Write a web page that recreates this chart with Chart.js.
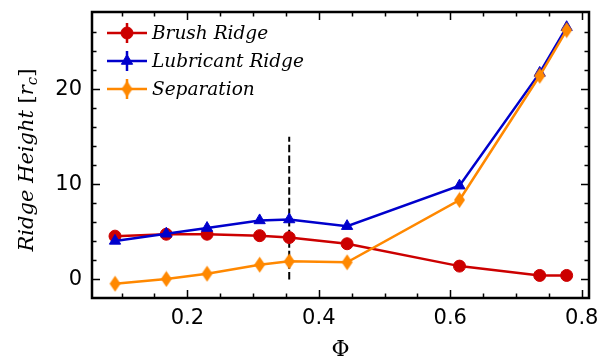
<!DOCTYPE html>
<html>
<head>
<meta charset="utf-8">
<script src="https://cdn.jsdelivr.net/npm/chart.js@4.4.1/dist/chart.umd.min.js"></script>
<style>
  body { margin: 0; background: #fff; }
  #ridge { display: block; }
</style>
</head>
<body>
<canvas id="ridge" width="608" height="362"></canvas>
<script>
// volume fraction and ridge heights (in units of r_c)
var phi = [0.090, 0.168, 0.230, 0.310, 0.355, 0.443, 0.614, 0.736, 0.777];
var brushRidge = [4.55, 4.75, 4.75, 4.6, 4.4, 3.75, 1.4, 0.42, 0.42];
var lubricantRidge = [4.05, 4.8, 5.4, 6.2, 6.3, 5.6, 9.85, 21.7, 26.5];
var separation = [-0.45, 0.05, 0.6, 1.55, 1.9, 1.8, 8.35, 21.4, 26.2];

// dashed reference line
var markPhi = 0.355;
var markTop = 15;

var xTicks = [0.2, 0.4, 0.6, 0.8];
var yTicks = [0, 10, 20];
var xMinor = [0.1, 0.15, 0.25, 0.3, 0.35, 0.45, 0.5, 0.55, 0.65, 0.7, 0.75];
var yMinor = [2, 4, 6, 8, 12, 14, 16, 18, 22, 24, 26];
var seriesNames = ['Brush Ridge', 'Lubricant Ridge', 'Separation'];

var RED = '#cc0000', BLUE = '#0000cc', ORANGE = '#ff8800';

function pts(ys) {
  return phi.map(function (x, i) { return { x: x, y: ys[i] }; });
}

// matplotlib-style thin diamond marker
function thinDiamond(color) {
  var c = document.createElement('canvas');
  c.width = 13; c.height = 17;
  var g = c.getContext('2d');
  g.fillStyle = color;
  g.beginPath();
  g.moveTo(6.5, 0.5); g.lineTo(12, 8.5); g.lineTo(6.5, 16.5); g.lineTo(1, 8.5);
  g.closePath();
  g.fill();
  return c;
}
var diamond = thinDiamond(ORANGE);

var markers = [
  { color: RED, style: 'circle', radius: 6 },
  { color: BLUE, style: 'triangle', radius: 6.5 },
  { color: ORANGE, style: diamond, radius: 6 }
];

// inward ticks on all four sides plus the frame
var frame = {
  id: 'frame',
  afterDraw: function (chart) {
    var ctx = chart.ctx, a = chart.chartArea;
    var xs = chart.scales.x, ys = chart.scales.y;
    ctx.save();
    ctx.strokeStyle = '#000';
    ctx.lineWidth = 1.5;
    ctx.beginPath();
    function xt(v, len) {
      var p = Math.round(xs.getPixelForValue(v)) + 0.5;
      ctx.moveTo(p, a.bottom); ctx.lineTo(p, a.bottom - len);
      ctx.moveTo(p, a.top); ctx.lineTo(p, a.top + len);
    }
    function yt(v, len) {
      var p = Math.round(ys.getPixelForValue(v)) + 0.5;
      ctx.moveTo(a.left, p); ctx.lineTo(a.left + len, p);
      ctx.moveTo(a.right, p); ctx.lineTo(a.right - len, p);
    }
    xTicks.forEach(function (v) { xt(v, 8); });
    xMinor.forEach(function (v) { xt(v, 4.5); });
    yTicks.forEach(function (v) { yt(v, 8); });
    yMinor.forEach(function (v) { yt(v, 4.5); });
    ctx.stroke();
    ctx.lineWidth = 2.5;
    ctx.strokeRect(a.left, a.top, a.right - a.left, a.bottom - a.top);
    ctx.restore();
  }
};

// legend: line, error bar and marker, italic labels
var legendBox = {
  id: 'legendBox',
  afterDraw: function (chart) {
    var ctx = chart.ctx;
    var x0 = 107, x1 = 147, top = 33, step = 28;
    ctx.save();
    markers.forEach(function (m, i) {
      var y = top + i * step;
      ctx.strokeStyle = m.color;
      ctx.fillStyle = m.color;
      ctx.lineWidth = 2.5;
      ctx.beginPath();
      ctx.moveTo(x0, y); ctx.lineTo(x1, y);
      ctx.moveTo((x0 + x1) / 2, y - 10); ctx.lineTo((x0 + x1) / 2, y + 10);
      ctx.stroke();
      ctx.lineWidth = 1;
      Chart.helpers.drawPoint(ctx, { pointStyle: m.style, radius: m.radius, borderWidth: 1, rotation: 0 }, (x0 + x1) / 2, y);
      ctx.fillStyle = '#000';
      ctx.font = 'italic 18.5px "DejaVu Serif"';
      ctx.textBaseline = 'alphabetic';
      ctx.textAlign = 'left';
      ctx.fillText(seriesNames[i], 152, y + 6);
    });
    ctx.restore();
  }
};

// rotated y title with subscript
var yTitle = {
  id: 'yTitle',
  afterDraw: function (chart) {
    var ctx = chart.ctx;
    var parts = [
      { t: 'Ridge Height ', f: 'italic 21px "DejaVu Serif"', dy: 0 },
      { t: '[', f: '21px "DejaVu Serif"', dy: 0 },
      { t: 'r', f: 'italic 21px "DejaVu Serif"', dy: 0 },
      { t: 'c', f: 'italic 15px "DejaVu Serif"', dy: 4 },
      { t: ']', f: '21px "DejaVu Serif"', dy: 0 }
    ];
    ctx.save();
    var total = 0;
    parts.forEach(function (p) { ctx.font = p.f; p.w = ctx.measureText(p.t).width; total += p.w; });
    ctx.translate(33, 160);
    ctx.rotate(-Math.PI / 2);
    ctx.fillStyle = '#000';
    ctx.textBaseline = 'alphabetic';
    ctx.textAlign = 'left';
    var x = -total / 2;
    parts.forEach(function (p) {
      ctx.font = p.f;
      ctx.fillText(p.t, x, p.dy);
      x += p.w;
    });
    ctx.restore();
  }
};

var tickFont = { family: '"DejaVu Sans"', size: 21 };

function noPad(s) {
  s.paddingTop = 0; s.paddingBottom = 0; s.paddingLeft = 0; s.paddingRight = 0;
}

new Chart(document.getElementById('ridge'), {
  type: 'line',
  data: {
    datasets: [
      {
        label: 'marker',
        data: [{ x: markPhi, y: 0 }, { x: markPhi, y: markTop }],
        borderColor: '#000',
        borderWidth: 2,
        borderDash: [7.4, 3.2],
        pointRadius: 0,
        order: 4
      },
      {
        label: seriesNames[0],
        data: pts(brushRidge),
        borderColor: RED,
        backgroundColor: RED,
        borderWidth: 2.5,
        pointStyle: 'circle',
        pointRadius: markers[0].radius,
        pointBorderWidth: 1,
        order: 3
      },
      {
        label: seriesNames[1],
        data: pts(lubricantRidge),
        borderColor: BLUE,
        backgroundColor: BLUE,
        borderWidth: 2.5,
        pointStyle: 'triangle',
        pointRadius: markers[1].radius,
        pointBorderWidth: 1,
        order: 2
      },
      {
        label: seriesNames[2],
        data: pts(separation),
        borderColor: ORANGE,
        backgroundColor: ORANGE,
        borderWidth: 2.5,
        pointStyle: diamond,
        pointRadius: markers[2].radius,
        order: 1
      }
    ]
  },
  options: {
    responsive: false,
    animation: false,
    layout: { padding: { top: 12, right: 19, left: 0, bottom: 0 } },
    elements: { line: { tension: 0 } },
    plugins: { legend: { display: false }, tooltip: { enabled: false } },
    scales: {
      x: {
        type: 'linear',
        min: 0.055,
        max: 0.811,
        grid: { display: false, drawTicks: false },
        border: { display: false },
        afterBuildTicks: function (s) { s.ticks = xTicks.map(function (v) { return { value: v }; }); },
        afterFit: function (s) { s.height = 64; noPad(s); },
        ticks: { font: tickFont, color: '#000', padding: 8, maxRotation: 0,
          callback: function (v) { return v.toFixed(1); } },
        title: { display: true, text: 'Φ', color: '#000',
          font: { family: '"DejaVu Serif"', size: 22 }, padding: { top: 0, bottom: -1 } }
      },
      y: {
        min: -1.95,
        max: 28.1,
        grid: { display: false, drawTicks: false },
        border: { display: false },
        afterBuildTicks: function (s) { s.ticks = yTicks.map(function (v) { return { value: v }; }); },
        afterFit: function (s) { s.width = 92; noPad(s); },
        ticks: { font: tickFont, color: '#000', padding: 10,
          callback: function (v) { return String(v); } }
      }
    }
  },
  plugins: [frame, legendBox, yTitle]
});
</script>
</body>
</html>
